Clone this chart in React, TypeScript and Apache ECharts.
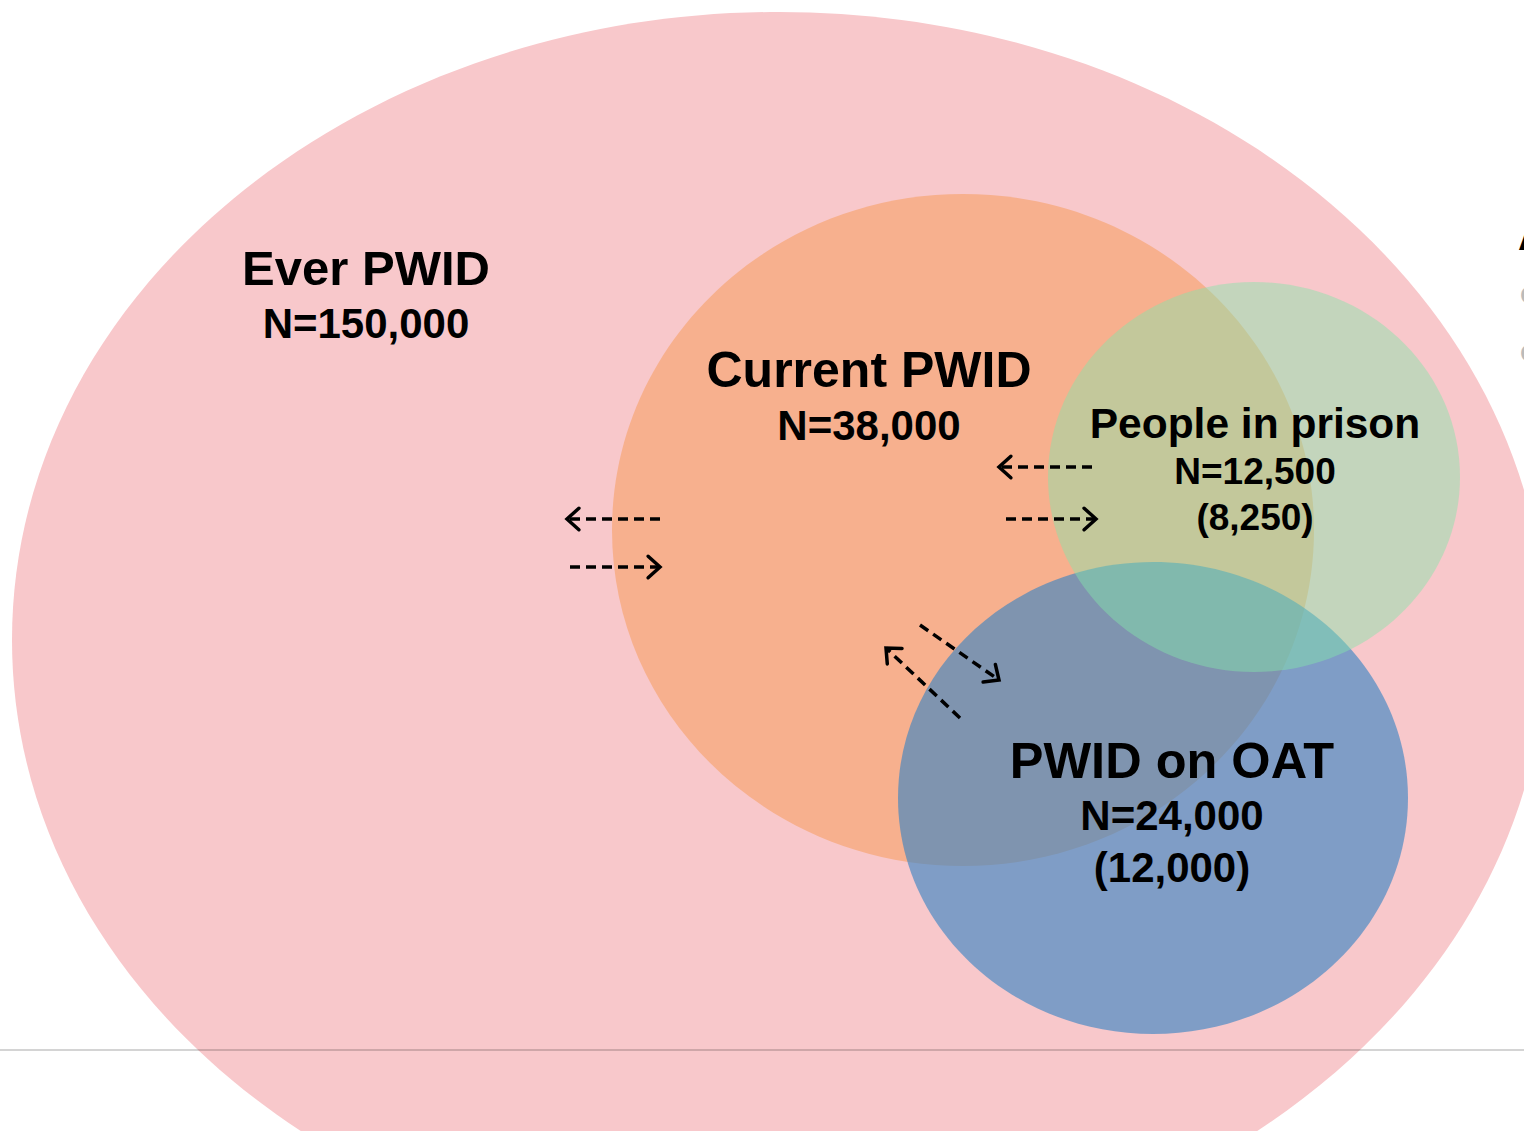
import React, { useEffect, useRef } from "react";
import * as echarts from "echarts";

// ---- data ----
const setNames: string[] = ["Ever PWID", "Current PWID", "People in prison", "PWID on OAT"];
const setSizes: number[] = [150000, 38000, 12500, 24000];
const subSizes: (number | null)[] = [null, null, 8250, 12000];

const fmt = (n: number) => n.toLocaleString("en-US");

const FONT = '"Liberation Sans", Arial, Helvetica, sans-serif';

function txt(text: string, x: number, y: number, size: number, z = 20, align = "center", fill = "#000") {
  return {
    type: "text",
    z,
    style: {
      text,
      x,
      y,
      fill,
      fontSize: size,
      fontWeight: "bold",
      fontFamily: FONT,
      textAlign: align,
      textVerticalAlign: "middle",
      align,
      verticalAlign: "middle",
    },
  };
}

function arrow(x1: number, y1: number, x2: number, y2: number) {
  const ang = Math.atan2(y2 - y1, x2 - x1);
  const L = 16;
  const spread = (42 * Math.PI) / 180;
  const a1 = ang + Math.PI - spread;
  const a2 = ang + Math.PI + spread;
  return [
    {
      type: "line",
      z: 30,
      shape: { x1, y1, x2, y2 },
      style: { stroke: "#000", lineWidth: 3.5, lineDash: [10, 6] },
    },
    {
      type: "polyline",
      z: 30,
      shape: {
        points: [
          [x2 + L * Math.cos(a1), y2 + L * Math.sin(a1)],
          [x2, y2],
          [x2 + L * Math.cos(a2), y2 + L * Math.sin(a2)],
        ],
      },
      style: { stroke: "#000", lineWidth: 3.5, fill: null, lineJoin: "miter", lineCap: "round" },
    },
  ];
}

export default function App() {
  const ref = useRef<HTMLDivElement>(null);
  useEffect(() => {
    if (!ref.current) return;
    const chart = echarts.init(ref.current, undefined, { renderer: "svg" });

    const ellipses = [
      { cx: 779, cy: 640, rx: 767, ry: 628, fill: "rgb(248,200,203)", z: 1 },
      { cx: 963, cy: 530, rx: 351, ry: 336, fill: "rgb(247,176,142)", z: 2 },
      { cx: 1153, cy: 798, rx: 255, ry: 236, fill: "rgba(53,131,195,0.62)", z: 3 },
      { cx: 1254, cy: 477, rx: 206, ry: 195, fill: "rgba(134,229,170,0.46)", z: 4 },
    ];

    const elements: any[] = ellipses.map((e) => ({
      type: "ellipse",
      z: e.z,
      shape: { cx: e.cx, cy: e.cy, rx: e.rx, ry: e.ry },
      style: { fill: e.fill },
    }));

    // Labels
    elements.push(txt(setNames[0], 366, 268, 49));
    elements.push(txt("N=" + fmt(setSizes[0]), 366, 323, 42));
    elements.push(txt(setNames[1], 869, 370, 50));
    elements.push(txt("N=" + fmt(setSizes[1]), 869, 425, 42));
    elements.push(txt(setNames[2], 1255, 423, 42.5));
    elements.push(txt("N=" + fmt(setSizes[2]), 1255, 471, 37));
    elements.push(txt("(" + fmt(subSizes[2] as number) + ")", 1255, 517, 37));
    elements.push(txt(setNames[3], 1172, 760, 50.5));
    elements.push(txt("N=" + fmt(setSizes[3]), 1172, 815, 42));
    elements.push(txt("(" + fmt(subSizes[3] as number) + ")", 1172, 867, 42));

    // clipped fragments at right edge (as in the reference)
    elements.push(txt("A", 1518, 236, 40, 20, "left"));
    elements.push(txt("c", 1520, 292, 30, 20, "left", "#bbb"));
    elements.push(txt("c", 1520, 350, 30, 20, "left", "#bbb"));

    // arrows
    elements.push(...arrow(660, 519, 567, 519));
    elements.push(...arrow(570, 567, 660, 567));
    elements.push(...arrow(1092, 467, 999, 467));
    elements.push(...arrow(1006, 519, 1096, 519));
    elements.push(...arrow(920, 625, 999, 680));
    elements.push(...arrow(960, 718, 886, 648));

    // horizontal rule
    elements.push({
      type: "line",
      z: 40,
      shape: { x1: 0, y1: 1050, x2: 1524, y2: 1050 },
      style: { stroke: "rgba(0,0,0,0.17)", lineWidth: 2 },
    });

    chart.setOption({
      animation: false,
      backgroundColor: "#fff",
      graphic: { elements },
    });

    return () => chart.dispose();
  }, []);

  return (
    <div
      ref={ref}
      style={{ position: "fixed", left: 0, top: 0, width: 1524, height: 1131 }}
    />
  );
}
